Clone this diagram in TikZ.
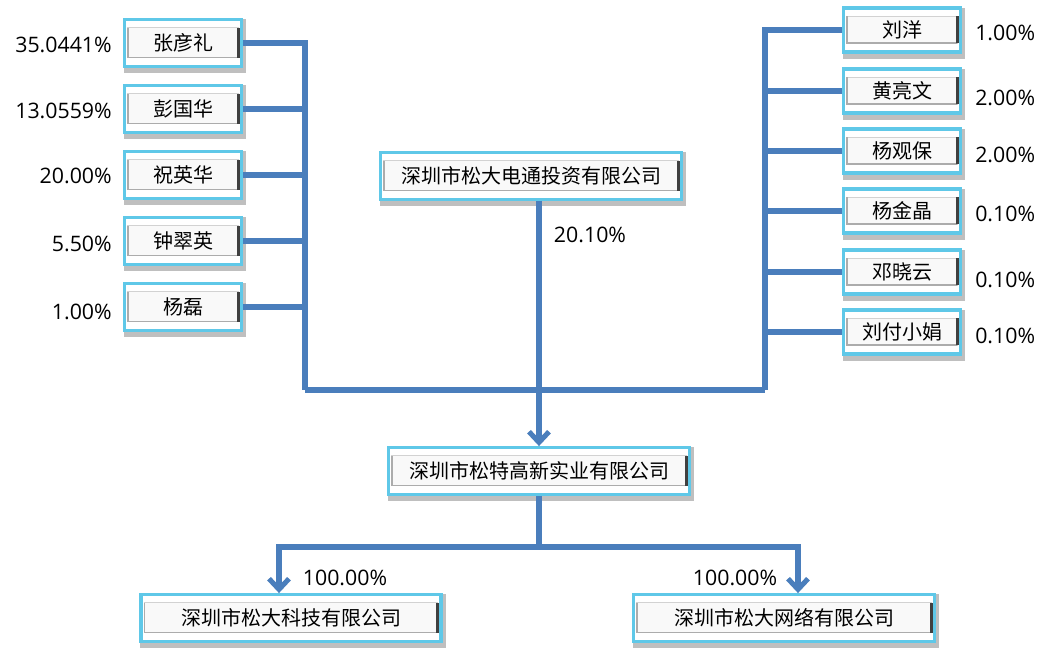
\documentclass[tikz,border=0pt]{standalone}
\usepackage{fontspec}
\setmainfont{Open Sans}
\newfontfamily\cjk{Noto Sans CJK SC}
\usepackage{tikz}
\usetikzlibrary{arrows.meta, positioning, backgrounds, calc}
\definecolor{linkblue}{RGB}{74,126,188}
\definecolor{framecyan}{RGB}{95,200,232}
\tikzstyle{holder} = [rectangle, draw=framecyan, line width=2.4pt, fill=white, inner sep=0pt, minimum width=88pt, minimum height=35pt, font=\cjk\fontsize{15}{18}\selectfont,
  append after command={\pgfextra{\begin{pgfonlayer}{background}
    \fill [gray!50] ([shift={(0.6pt,-4pt)}]\tikzlastnode.south west) rectangle ([shift={(2.4pt,-1pt)}]\tikzlastnode.north east);
  \end{pgfonlayer}}},
  path picture={
    \coordinate (pa) at ([shift={(2.6pt,-6.2pt)}]path picture bounding box.north west);
    \coordinate (pb) at ([shift={(-2.6pt,6.6pt)}]path picture bounding box.south east);
    \fill [gray!5] (pa) rectangle (pb);
    \draw [gray!35, line width=0.7pt] (pa) rectangle (pb);
    \draw [gray!65, line width=1.2pt] (pa) -- (pa |- pb) -- (pb);
    \draw [gray!50!black, line width=2pt] (pa -| pb) -- (pb);
  }]
\tikzstyle{pct} = [font=\fontsize{16}{19}\selectfont, inner sep=0pt]
\tikzstyle{link} = [draw=linkblue, line width=3.8pt]
\tikzstyle{arrow} = [link, -{Straight Barb[length=8pt, width=15pt]}]

\begin{document}
\begin{tikzpicture}[x=0.75pt, y=-0.75pt]
    \useasboundingbox (0,0) rectangle (1045,648);

    % Shareholders, left
    \node (zyl) [holder] at (183,43) {张彦礼};
    \node (pgh) [holder] at (183,109) {彭国华};
    \node (zyh) [holder] at (183,175) {祝英华};
    \node (zcy) [holder] at (183,241) {钟翠英};
    \node (yl) [holder] at (183,307) {杨磊};

    \node [pct, anchor=east] at (112,45) {35.0441\%};
    \node [pct, anchor=east] at (112,111) {13.0559\%};
    \node [pct, anchor=east] at (112,176) {20.00\%};
    \node [pct, anchor=east] at (112,244) {5.50\%};
    \node [pct, anchor=east] at (112,312) {1.00\%};

    % Shareholders, right
    \node (ly) [holder, minimum height=33pt] at (902,30) {刘洋};
    \node (hlw) [holder, minimum height=33pt] at (902,91) {黄亮文};
    \node (ygb) [holder, minimum height=33pt] at (902,151) {杨观保};
    \node (yjj) [holder, minimum height=33pt] at (902,211) {杨金晶};
    \node (dxy) [holder, minimum height=33pt] at (902,272) {邓晓云};
    \node (lfxj) [holder, minimum height=33pt] at (902,332) {刘付小娟};

    \node [pct, anchor=west] at (975,33) {1.00\%};
    \node [pct, anchor=west] at (975,98) {2.00\%};
    \node [pct, anchor=west] at (975,155) {2.00\%};
    \node [pct, anchor=west] at (975,214) {0.10\%};
    \node [pct, anchor=west] at (975,280) {0.10\%};
    \node [pct, anchor=west] at (975,336) {0.10\%};

    % Companies
    \node (tz) [holder, minimum width=226pt] at (531,176) {深圳市松大电通投资有限公司};
    \node (sg) [holder, minimum width=226pt] at (539,471) {深圳市松特高新实业有限公司};
    \node (kj) [holder, minimum width=225pt] at (291,618) {深圳市松大科技有限公司};
    \node (wl) [holder, minimum width=226pt] at (784,618) {深圳市松大网络有限公司};

    % Connections
    \coordinate (lbus) at (305,390);
    \coordinate (rbus) at (765,390);
    \coordinate (split) at (539,547);

    \draw [link] (zyl.east) -| (lbus);
    \draw [link] (pgh.east) -| (lbus);
    \draw [link] (zyh.east) -| (lbus);
    \draw [link] (zcy.east) -| (lbus);
    \draw [link] (yl.east) -| (lbus);

    \draw [link] (ly.west) -| (rbus);
    \draw [link] (hlw.west) -| (rbus);
    \draw [link] (ygb.west) -| (rbus);
    \draw [link] (yjj.west) -| (rbus);
    \draw [link] (dxy.west) -| (rbus);
    \draw [link] (lfxj.west) -| (rbus);

    \draw [link] (lbus) -- (rbus);
    \draw [arrow] (tz.south -| sg.north) -- (sg.north);
    \node [pct] at (590,235) {20.10\%};

    \draw [link] (sg.south) -- (split);
    \draw [arrow] (split) -| ([xshift=-9pt]kj.north);
    \draw [arrow] (split) -| ([xshift=10.5pt]wl.north);
    \node [pct] at (345,578) {100.00\%};
    \node [pct] at (735,578) {100.00\%};
\end{tikzpicture}
\end{document}
